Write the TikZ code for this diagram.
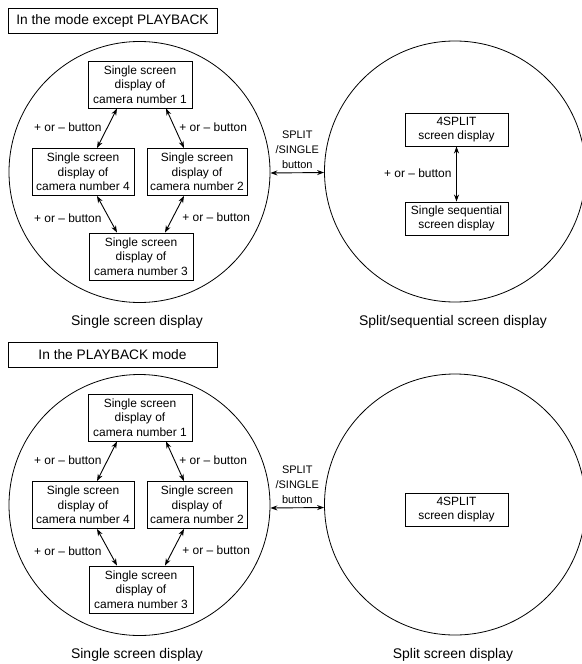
\documentclass[tikz,border=0pt]{standalone}
\usepackage{fontspec}
\setmainfont{Liberation Sans}
\usetikzlibrary{arrows.meta}
\newcommand\camleft[1]{%
  \node[ring] (#1-lc) at (139.5,172) {};
  \node[bx] (#1-b1) at (140,84.5) {Single screen\\display of\\camera number 1};
  \node[bx, minimum width=102bp] (#1-b4) at (83,172) {Single screen\\display of\\camera number 4};
  \node[bx, minimum width=100bp] (#1-b2) at (197,172) {Single screen\\display of\\camera number 2};
  \node[bx] (#1-b3) at (141,256.5) {Single screen\\display of\\camera number 3};
  \draw[dbl] ([xshift=-23bp]#1-b1.south) -- ([xshift=14bp]#1-b4.north);
  \draw[dbl] ([xshift=26bp]#1-b1.south) -- ([xshift=-13bp]#1-b2.north);
  \draw[dbl] ([xshift=14bp]#1-b4.south) -- ([xshift=-24bp]#1-b3.north);
  \draw[dbl] ([xshift=-13bp]#1-b2.south) -- ([xshift=24bp]#1-b3.north);
  \node[lbl, anchor=east] (#1-l1) at (102,127) {+ or – button};
  \node[lbl, anchor=west] (#1-l2) at (179,127) {+ or – button};
  \node[lbl, anchor=east] (#1-l3) at (102,218) {+ or – button};
  \node[lbl, anchor=west] (#1-l4) at (182,217) {+ or – button};
  \node[captxt] (#1-c1) at (137,322) {Single screen display};
}
\begin{document}
\begin{tikzpicture}[x=1bp,y=-1bp,
  line width=0.9bp,
  bx/.style={draw, align=center, minimum width=104bp, minimum height=47bp, inner sep=2bp, font=\fontsize{12}{14.5}\selectfont},
  sbx/.style={draw, align=center, minimum width=103bp, minimum height=33bp, inner sep=2bp, font=\fontsize{12}{14}\selectfont},
  ttl/.style={draw, minimum width=209bp, minimum height=25bp, inner sep=0pt, font=\fontsize{13.8}{16}\selectfont},
  ring/.style={draw, circle, minimum size=261bp, inner sep=0pt, line width=0.8bp},
  lbl/.style={font=\fontsize{12}{14}\selectfont, inner sep=0pt},
  captxt/.style={font=\fontsize{14}{16}\selectfont},
  sptxt/.style={above=4bp, align=center, inner sep=0pt, font=\fontsize{11}{15}\selectfont},
  dbl/.style={{Stealth[length=7bp,width=5bp]}-{Stealth[length=7bp,width=5bp]}},
]
\useasboundingbox (0,0) rectangle (582,664);

% ---------- top section ----------
\node[ttl] (t-title) at (112.5,20.5) {In the mode except PLAYBACK};
\camleft{t}
\node[ring] (t-rc) at (455,171.5) {};
\node[sbx] (t-s1) at (456.5,129.5) {4SPLIT\\screen display};
\node[sbx] (t-s2) at (456.5,218.5) {Single sequential\\screen display};
\draw[dbl] (t-s1) -- (t-s2);
\node[lbl, anchor=east] (t-l5) at (452,173) {+ or – button};
\draw[dbl] ([yshift=-1bp]t-lc.east) -- node[sptxt] (t-sp) {SPLIT\\/SINGLE\\button} ([yshift=-1bp]t-rc.west);
\node[captxt] (t-c2) at (453,322) {Split/sequential screen display};

% ---------- bottom section ----------
\node[ttl] (b-title) at (112.5,355) {In the PLAYBACK mode};
\begin{scope}[yshift=-333bp]
\camleft{b}
\node[ring] (b-rc) at (455,171.5) {};
\node[sbx] (b-s1) at (456.5,177) {4SPLIT\\screen display};
\draw[dbl] ([yshift=-3bp]b-lc.east) -- node[sptxt] (b-sp) {SPLIT\\/SINGLE\\button} ([yshift=-3bp]b-rc.west);
\node[captxt] (b-c2) at (453,322) {Split screen display};
\end{scope}
\end{tikzpicture}
\end{document}
